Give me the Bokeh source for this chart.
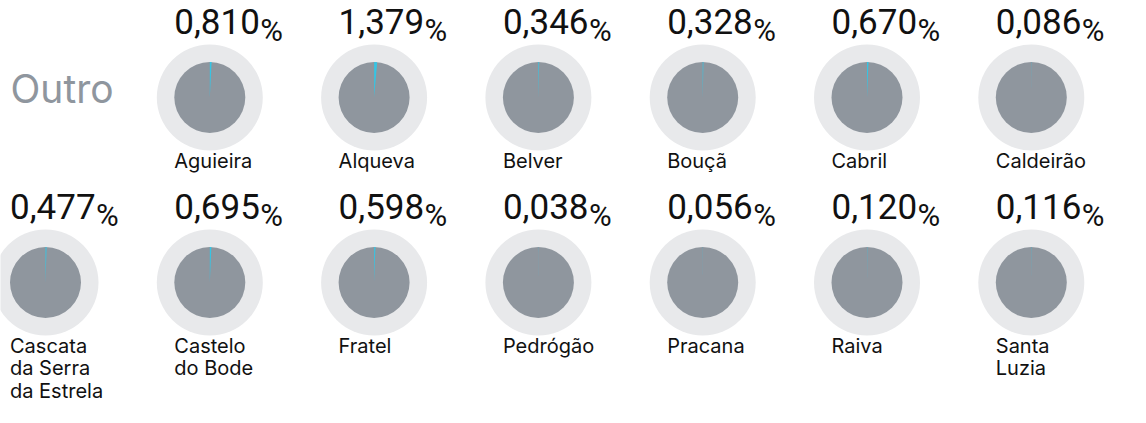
import math
from bokeh.plotting import figure
from bokeh.models import Range1d, ColumnDataSource
from bokeh.core.properties import value
from bokeh.embed import file_html
from bokeh.resources import INLINE

# ---- data ----
group_label = "Outro"
names = ["Aguieira", "Alqueva", "Belver", "Bouçã", "Cabril", "Caldeirão",
         "Cascata\nda Serra\nda Estrela", "Castelo\ndo Bode", "Fratel", "Pedrógão",
         "Pracana", "Raiva", "Santa\nLuzia"]
shares = [0.810, 1.379, 0.346, 0.328, 0.670, 0.086,
          0.477, 0.695, 0.598, 0.038, 0.056, 0.120, 0.116]

# ---- layout (pixels, top-down) ----
W, H = 1130, 407
N_COLS = 7
COL_X0, COL_STEP = 45.0, 164.3
ROW_Y0, ROW_STEP = 97.0, 185.0
R_OUT, R_IN = 53.0, 35.5
NAME_FONT = "Inter"
NUM_FONT = "Roboto"
PCT_DY = -89.0      # top anchor of the percentage relative to the pie centre
NAME_DY = 51.5      # top anchor of the name relative to the pie centre

xs, ys, lefts, pct_txt, wedge_start, wedge_end = [], [], [], [], [], []
pct_y, name_y = [], []
for i, v in enumerate(shares):
    slot = i + 1
    row, col = divmod(slot, N_COLS)
    cx = COL_X0 + col * COL_STEP
    cy = ROW_Y0 + row * ROW_STEP
    xs.append(cx)
    ys.append(H - cy)
    lefts.append(cx - R_IN)
    pct_y.append(H - (cy + PCT_DY))
    name_y.append(H - (cy + NAME_DY))
    pct_txt.append(f"{v:.3f}".replace(".", ","))
    wedge_start.append(math.pi / 2 - 2 * math.pi * v / 100.0)
    wedge_end.append(math.pi / 2)

src = ColumnDataSource(dict(
    x=xs, y=ys, left=lefts, pct=pct_txt, name=names,
    start=wedge_start, end=wedge_end,
    pct_y=pct_y, name_y=name_y,
    sign_x=[l + 86 for l in lefts],
    sign=["%"] * len(shares),
))

p = figure(width=W, height=H, output_backend="svg", toolbar_location=None,
           x_range=Range1d(0, W), y_range=Range1d(0, H),
           x_axis_location=None, y_axis_location=None,
           min_border=0, min_border_left=0, min_border_right=0,
           min_border_top=0, min_border_bottom=0)
p.outline_line_color = None
p.xgrid.visible = False
p.ygrid.visible = False
p.background_fill_color = "white"
p.border_fill_color = "white"

p.circle(x="x", y="y", radius=R_OUT, fill_color="#e8e9eb", line_color=None, source=src)
p.circle(x="x", y="y", radius=R_IN, fill_color="#8f969e", line_color=None, source=src)
p.wedge(x="x", y="y", radius=R_IN, start_angle="start", end_angle="end",
        fill_color="#35c5e4", line_color=None, source=src)

p.text(x="left", y="pct_y", text="pct", source=src, text_font=value(NUM_FONT),
       text_font_size="35px", text_color="#111111", text_baseline="top",
       text_align="left")
p.text(x="sign_x", y="pct_y", text="sign", source=src, text_font=value(NUM_FONT),
       text_font_size="31px", text_color="#111111", text_baseline="top",
       text_align="left", y_offset=3)
p.text(x="left", y="name_y", text="name", source=src, text_font=value(NAME_FONT),
       text_font_size="20px", text_color="#111111", text_baseline="top",
       text_align="left", text_line_height=0.93)

p.text(x=[10], y=[H - 64], text=[group_label], text_font=value(NAME_FONT),
       text_font_size="39px", text_color="#8f969e", text_baseline="top",
       text_align="left")

open("out.html", "w").write(file_html(p, INLINE))
